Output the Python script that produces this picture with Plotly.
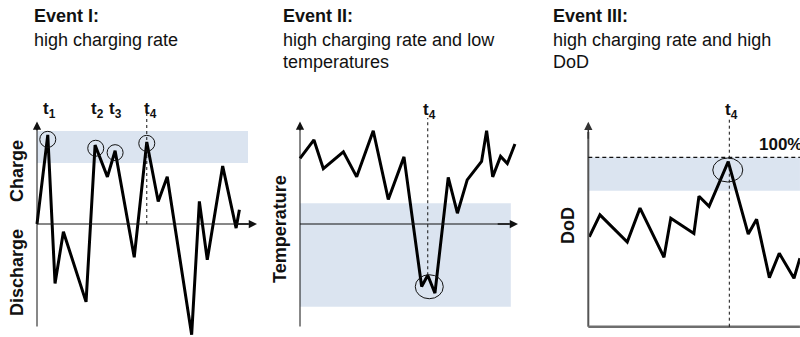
import plotly.graph_objects as go

W, H = 800, 337
FONT = "Liberation Sans, Arial, sans-serif"
BAND = "#dbe4f0"
INK = "#111111"

# ---------------- data ----------------
# Event I: charge/discharge rate over time
p1_time = [0, 4.9, 8.2, 12.0, 22.3, 26.4, 32.0, 35.5, 44.2, 49.9, 55.1, 59.2, 70.3, 73.8, 77.4, 84.4, 90.5, 92.0]
p1_rate = [0, 87, -58, -7.5, -76, 77, 46, 71.5, -32.5, 80, 22, 46, -108, 22, -35, 56.5, -4, 14]
p1_band = [59.5, 90.7]
p1_event_labels = ["t<sub>1</sub>", "t<sub>2</sub>", "t<sub>3</sub>", "t<sub>4</sub>"]
p1_event_time = [4.9, 26.7, 35.5, 49.9]
p1_event_value = [82.6, 73.9, 69.6, 78.7]
p1_label_time = [5.9, 27.7, 35.9, 51.6]
p1_t4 = 49.9

# Event II: temperature over time
p2_time = [0, 6.4, 10.7, 19.9, 26.0, 33.6, 40.5, 47.7, 55.8, 58.6, 61.9, 68.0, 72.2, 76.7, 83.3, 85.6, 88.4, 92.0, 95.1, 98.6]
p2_temp = [64, 82, 54, 70.5, 46, 91, 24, 65.5, -61, -50, -67.5, 45.5, 10.5, 43, 61, 91, 46, 66, 59, 78]
p2_band = [-80.7, 20.2]
p2_event_time = 59.3
p2_event_value = -61.2
p2_t4 = 58.6
p2_t4_value = -50

# Event III: depth of discharge over time
p3_time = [0.45, 5.3, 17.7, 23.5, 34.4, 37.5, 48.0, 50.3, 54.9, 63.6, 72.7, 76.5, 82.3, 86.8, 93.5, 96.2]
p3_dod = [53, 66, 50, 70, 41, 64, 55, 77, 71, 97.4, 54.7, 63.4, 29, 43.3, 28.6, 40.4]
p3_band = [80.3, 100]
p3_full = 100
p3_event_time = 63.4
p3_event_value = 92.5
p3_t4 = 64.1

titles = ["Event I:", "Event II:", "Event III:"]
subtitles = [["high charging rate"],
             ["high charging rate and low", "temperatures"],
             ["high charging rate and high", "DoD"]]

# ---------------- layout geometry (pixels) ----------------
panels = {
    # origin_x px, x scale px/unit, x range, zero_y px, y scale px/unit, y range
    1: dict(ox=37.0, sx=2.2, xr=[-3, 103], oy=224.0, sy=1.025, yr=[-110, 120]),
    2: dict(ox=300.0, sx=2.18, xr=[-3, 103], oy=224.0, sy=1.025, yr=[-110, 120]),
    3: dict(ox=588.3, sx=2.2, xr=[-2, 96.2], oy=326.7, sy=1.694, yr=[-3, 132]),
}


def xdom(p):
    a = (p["ox"] + p["xr"][0] * p["sx"]) / W
    b = (p["ox"] + p["xr"][1] * p["sx"]) / W
    return [max(0, a), min(1, b)]


def ydom(p):
    bottom = p["oy"] - p["yr"][0] * p["sy"]
    top = p["oy"] - p["yr"][1] * p["sy"]
    return [max(0, 1 - bottom / H), min(1, 1 - top / H)]


fig = go.Figure()
shapes = []
ann = []

def ax_names(i):
    return ("x" if i == 1 else f"x{i}", "y" if i == 1 else f"y{i}")


def ellipse(i, cx, cy, rx_px, ry_px):
    p = panels[i]
    xr, yr = ax_names(i)
    shapes.append(dict(type="circle", xref=xr, yref=yr,
                       x0=cx - rx_px / p["sx"], x1=cx + rx_px / p["sx"],
                       y0=cy - ry_px / p["sy"], y1=cy + ry_px / p["sy"],
                       line=dict(color=INK, width=1), layer="above"))


def arrow(i, x0, y0, x1, y1, color=INK):
    xr, yr = ax_names(i)
    ann.append(dict(x=x1, y=y1, ax=x0, ay=y0, xref=xr, yref=yr, axref=xr, ayref=yr,
                    text="", showarrow=True, arrowhead=2, arrowsize=1.1,
                    arrowwidth=1.5, arrowcolor=color, standoff=0, startstandoff=0))


def line(i, x0, y0, x1, y1, color=INK, width=1, dash="solid"):
    xr, yr = ax_names(i)
    shapes.append(dict(type="line", xref=xr, yref=yr, x0=x0, y0=y0, x1=x1, y1=y1,
                       line=dict(color=color, width=width, dash=dash), layer="above"))


def rect(i, x0, y0, x1, y1):
    xr, yr = ax_names(i)
    shapes.append(dict(type="rect", xref=xr, yref=yr, x0=x0, y0=y0, x1=x1, y1=y1,
                       fillcolor=BAND, line=dict(width=0), layer="below"))


def label(i, x, y, text, size=17, anchor="center"):
    xr, yr = ax_names(i)
    ann.append(dict(x=x, y=y, xref=xr, yref=yr, text=f"<b>{text}</b>", showarrow=False,
                    xanchor=anchor, yanchor="middle",
                    font=dict(family=FONT, size=size, color=INK)))


# ---- Panel 1 ----
rect(1, 0, p1_band[0], 95.9, p1_band[1])
fig.add_trace(go.Scatter(x=p1_time, y=p1_rate, mode="lines",
                         line=dict(color="black", width=3), xaxis="x", yaxis="y",
                         showlegend=False, hoverinfo="skip"))
line(1, 0, -100, 0, 95)
arrow(1, 0, 90, 0, 100)
line(1, 0, 0, 96, 0)
arrow(1, 90, 0, 100, 0)
line(1, p1_t4, 0, p1_t4, 108, width=1, dash="dot")
for tx, ty in zip(p1_event_time, p1_event_value):
    ellipse(1, tx, ty, 8, 8)
for lx, lt in zip(p1_label_time, p1_event_labels):
    label(1, lx, 111, lt)

# ---- Panel 2 ----
rect(2, 0, p2_band[0], 96.7, p2_band[1])
fig.add_trace(go.Scatter(x=p2_time, y=p2_temp, mode="lines",
                         line=dict(color="black", width=3), xaxis="x2", yaxis="y2",
                         showlegend=False, hoverinfo="skip"))
line(2, 0, -100, 0, 95)
arrow(2, 0, 90, 0, 100)
line(2, 0, 0, 96, 0)
arrow(2, 90, 0, 100, 0)
line(2, p2_t4, p2_t4_value, p2_t4, 103.4, width=1, dash="dot")
ellipse(2, p2_event_time, p2_event_value, 14, 12)
label(2, 59.4, 110.5, "t<sub>4</sub>")

# ---- Panel 3 ----
rect(3, 0, p3_band[0], 100, p3_band[1])
fig.add_trace(go.Scatter(x=p3_time, y=p3_dod, mode="lines",
                         line=dict(color="black", width=3), xaxis="x3", yaxis="y3",
                         showlegend=False, hoverinfo="skip"))
line(3, 0, 0, 0, 115, color="#555555", width=2)
arrow(3, 0, 110, 0, 121, color="#333333")
line(3, 0, 0, 100, 0, color="#6e6e6e", width=2.5)
line(3, 0, p3_full, 100, p3_full, width=1.2, dash="4px,3px")
line(3, p3_t4, 0, p3_t4, 122.6, width=1, dash="dot")
ellipse(3, p3_event_time, p3_event_value, 15, 12)
label(3, 65.1, 127.3, "t<sub>4</sub>")
label(3, 76.5, 107.3, "100%", anchor="left")

# ---- titles (paper coords from pixel positions) ----
title_x = [32, 281, 551]
for tx, t, subs in zip(title_x, titles, subtitles):
    ann.append(dict(x=tx / W, y=1 - 16 / H, xref="paper", yref="paper", text=f"<b>{t}</b>",
                    showarrow=False, xanchor="left", yanchor="middle",
                    font=dict(family=FONT, size=18, color=INK)))
    for k, s in enumerate(subs):
        ann.append(dict(x=tx / W, y=1 - (40.5 + 21.7 * k) / H, xref="paper", yref="paper",
                        text=s, showarrow=False, xanchor="left", yanchor="middle",
                        font=dict(family=FONT, size=18, color=INK)))

# ---- rotated axis labels ----
ylabels = [("Charge", 17, 171), ("Discharge", 17, 273), ("Temperature", 280, 229), ("DoD", 568, 226)]
for txt, px, py in ylabels:
    ann.append(dict(x=px / W, y=1 - py / H, xref="paper", yref="paper", text=f"<b>{txt}</b>",
                    textangle=-90, showarrow=False, xanchor="center", yanchor="middle",
                    font=dict(family=FONT, size=18, color=INK)))

layout = dict(width=W, height=H, margin=dict(l=0, r=0, t=0, b=0),
              paper_bgcolor="white", plot_bgcolor="rgba(0,0,0,0)",
              shapes=shapes, annotations=ann, showlegend=False)
for i in (1, 2, 3):
    p = panels[i]
    xk = "xaxis" if i == 1 else f"xaxis{i}"
    yk = "yaxis" if i == 1 else f"yaxis{i}"
    yname = "y" if i == 1 else f"y{i}"
    xname = "x" if i == 1 else f"x{i}"
    layout[xk] = dict(domain=xdom(p), range=p["xr"], visible=False, anchor=yname, fixedrange=True)
    layout[yk] = dict(domain=ydom(p), range=p["yr"], visible=False, anchor=xname, fixedrange=True)

fig.update_layout(**layout)
fig.write_html("out.html", config={"displayModeBar": False},
               post_script="document.body.style.margin='0px';document.body.style.overflow='hidden';")
